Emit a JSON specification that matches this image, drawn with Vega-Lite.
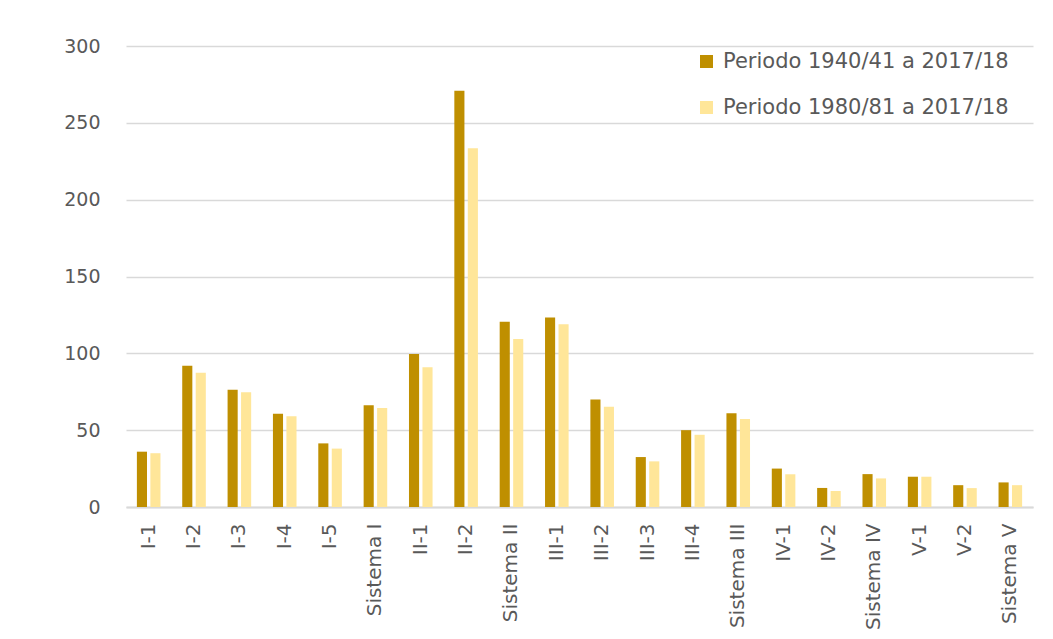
{
  "$schema": "https://vega.github.io/schema/vega-lite/v6.json",
  "autosize": "none",
  "width": 907,
  "height": 461,
  "padding": {"left": 126, "top": 46, "right": 20, "bottom": 132},
  "background": "white",
  "config": {
    "view": {"stroke": null},
    "font": "DejaVu Sans",
    "axis": {"labelFont": "DejaVu Sans", "labelColor": "#595959"}
  },
  "data": {
    "values": [
      {"zona": "I-1", "periodo": "Periodo 1940/41 a 2017/18", "valor": 36},
      {"zona": "I-1", "periodo": "Periodo 1980/81 a 2017/18", "valor": 35},
      {"zona": "I-2", "periodo": "Periodo 1940/41 a 2017/18", "valor": 92},
      {"zona": "I-2", "periodo": "Periodo 1980/81 a 2017/18", "valor": 87.4},
      {"zona": "I-3", "periodo": "Periodo 1940/41 a 2017/18", "valor": 76.3},
      {"zona": "I-3", "periodo": "Periodo 1980/81 a 2017/18", "valor": 74.6},
      {"zona": "I-4", "periodo": "Periodo 1940/41 a 2017/18", "valor": 60.7},
      {"zona": "I-4", "periodo": "Periodo 1980/81 a 2017/18", "valor": 59},
      {"zona": "I-5", "periodo": "Periodo 1940/41 a 2017/18", "valor": 41.4},
      {"zona": "I-5", "periodo": "Periodo 1980/81 a 2017/18", "valor": 38},
      {"zona": "Sistema I", "periodo": "Periodo 1940/41 a 2017/18", "valor": 66.2},
      {"zona": "Sistema I", "periodo": "Periodo 1980/81 a 2017/18", "valor": 64.4},
      {"zona": "II-1", "periodo": "Periodo 1940/41 a 2017/18", "valor": 99.5},
      {"zona": "II-1", "periodo": "Periodo 1980/81 a 2017/18", "valor": 91},
      {"zona": "II-2", "periodo": "Periodo 1940/41 a 2017/18", "valor": 270.9},
      {"zona": "II-2", "periodo": "Periodo 1980/81 a 2017/18", "valor": 233.4},
      {"zona": "Sistema II", "periodo": "Periodo 1940/41 a 2017/18", "valor": 120.6},
      {"zona": "Sistema II", "periodo": "Periodo 1980/81 a 2017/18", "valor": 109.3},
      {"zona": "III-1", "periodo": "Periodo 1940/41 a 2017/18", "valor": 123.4},
      {"zona": "III-1", "periodo": "Periodo 1980/81 a 2017/18", "valor": 118.9},
      {"zona": "III-2", "periodo": "Periodo 1940/41 a 2017/18", "valor": 70},
      {"zona": "III-2", "periodo": "Periodo 1980/81 a 2017/18", "valor": 65.3},
      {"zona": "III-3", "periodo": "Periodo 1940/41 a 2017/18", "valor": 32.5},
      {"zona": "III-3", "periodo": "Periodo 1980/81 a 2017/18", "valor": 29.7},
      {"zona": "III-4", "periodo": "Periodo 1940/41 a 2017/18", "valor": 50},
      {"zona": "III-4", "periodo": "Periodo 1980/81 a 2017/18", "valor": 47},
      {"zona": "Sistema III", "periodo": "Periodo 1940/41 a 2017/18", "valor": 61},
      {"zona": "Sistema III", "periodo": "Periodo 1980/81 a 2017/18", "valor": 57.3},
      {"zona": "IV-1", "periodo": "Periodo 1940/41 a 2017/18", "valor": 25},
      {"zona": "IV-1", "periodo": "Periodo 1980/81 a 2017/18", "valor": 21.3},
      {"zona": "IV-2", "periodo": "Periodo 1940/41 a 2017/18", "valor": 12.4},
      {"zona": "IV-2", "periodo": "Periodo 1980/81 a 2017/18", "valor": 10.4},
      {"zona": "Sistema IV", "periodo": "Periodo 1940/41 a 2017/18", "valor": 21.4},
      {"zona": "Sistema IV", "periodo": "Periodo 1980/81 a 2017/18", "valor": 18.6},
      {"zona": "V-1", "periodo": "Periodo 1940/41 a 2017/18", "valor": 19.7},
      {"zona": "V-1", "periodo": "Periodo 1980/81 a 2017/18", "valor": 19.7},
      {"zona": "V-2", "periodo": "Periodo 1940/41 a 2017/18", "valor": 14.2},
      {"zona": "V-2", "periodo": "Periodo 1980/81 a 2017/18", "valor": 12.3},
      {"zona": "Sistema V", "periodo": "Periodo 1940/41 a 2017/18", "valor": 16},
      {"zona": "Sistema V", "periodo": "Periodo 1980/81 a 2017/18", "valor": 14.2}
    ]
  },
  "mark": {"type": "bar"},
  "encoding": {
    "x": {
      "field": "zona",
      "type": "nominal",
      "sort": null,
      "scale": {"paddingInner": 0.48, "paddingOuter": 0.24},
      "axis": {
        "title": null,
        "labelAngle": -90,
        "labelAlign": "right",
        "labelBaseline": "middle",
        "labelFontSize": 20,
        "labelPadding": 16,
        "labelLimit": 0,
        "ticks": false,
        "domain": true,
        "domainColor": "#d9d9d9",
        "domainWidth": 2
      }
    },
    "xOffset": {
      "field": "periodo",
      "type": "nominal",
      "scale": {"paddingInner": 0.25}
    },
    "y": {
      "field": "valor",
      "type": "quantitative",
      "scale": {"domain": [0, 300], "nice": false},
      "axis": {
        "title": null,
        "values": [0, 50, 100, 150, 200, 250, 300],
        "domain": false,
        "ticks": false,
        "labelFontSize": 19,
        "labelPadding": 26,
        "gridColor": "#d9d9d9",
        "gridWidth": 1.5
      }
    },
    "color": {
      "field": "periodo",
      "type": "nominal",
      "scale": {
        "domain": ["Periodo 1940/41 a 2017/18", "Periodo 1980/81 a 2017/18"],
        "range": ["#BF8F00", "#FFE699"]
      },
      "legend": {
        "title": null,
        "orient": "none",
        "legendX": 570,
        "legendY": 5,
        "symbolType": "square",
        "symbolSize": 169,
        "symbolStrokeWidth": 0,
        "labelFontSize": 21,
        "labelColor": "#595959",
        "labelFont": "DejaVu Sans",
        "labelLimit": 0,
        "rowPadding": 24,
        "labelOffset": 6
      }
    }
  }
}
